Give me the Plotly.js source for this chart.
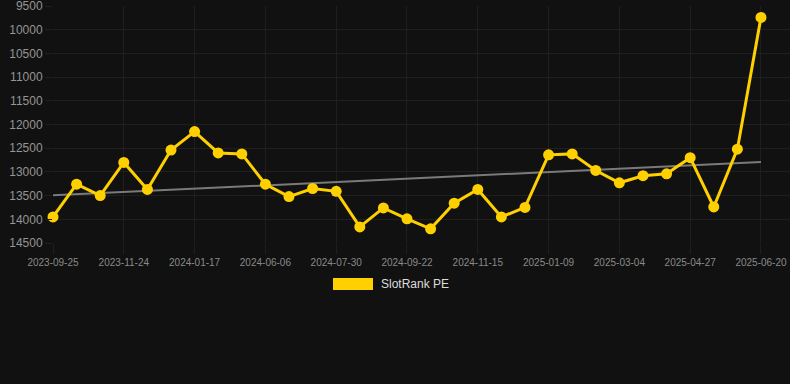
<!DOCTYPE html>
<html>
<head>
<meta charset="utf-8">
<script src="https://cdn.plot.ly/plotly-3.0.1.min.js"></script>
<style>
  html, body { margin: 0; padding: 0; background: #111111; }
  #chart { width: 790px; height: 384px; }
</style>
</head>
<body>
<div id="chart"></div>
<script>
// Data
const dates = [
  "2023-09-25", "2023-10-15", "2023-11-04", "2023-11-24", "2023-12-12", "2023-12-30",
  "2024-01-17", "2024-05-01", "2024-05-19", "2024-06-06", "2024-06-24", "2024-07-12",
  "2024-07-30", "2024-08-17", "2024-09-04", "2024-09-22", "2024-10-10", "2024-10-28",
  "2024-11-15", "2024-12-04", "2024-12-22", "2025-01-09", "2025-01-27", "2025-02-14",
  "2025-03-04", "2025-03-22", "2025-04-09", "2025-04-27", "2025-05-15", "2025-06-02",
  "2025-06-20"
];
const rankValues = [
  13950, 13260, 13500, 12800, 13370, 12540,
  12150, 12600, 12620, 13260, 13520, 13350,
  13410, 14160, 13760, 13990, 14200, 13660,
  13370, 13950, 13750, 12640, 12620, 12970,
  13230, 13080, 13040, 12700, 13740, 12520,
  9740
];
const tickDates = [
  "2023-09-25", "2023-11-24", "2024-01-17", "2024-06-06", "2024-07-30", "2024-09-22",
  "2024-11-15", "2025-01-09", "2025-03-04", "2025-04-27", "2025-06-20"
];
const yTicks = [9500, 10000, 10500, 11000, 11500, 12000, 12500, 13000, 13500, 14000, 14500];
const seriesName = "SlotRank PE";

// Linear trend (least squares over index)
const n = rankValues.length;
let sx = 0, sy = 0, sxx = 0, sxy = 0;
rankValues.forEach((v, i) => { sx += i; sy += v; sxx += i * i; sxy += i * v; });
const slope = (n * sxy - sx * sy) / (n * sxx - sx * sx);
const intercept = (sy - slope * sx) / n;
const trendValues = rankValues.map((_, i) => intercept + slope * i);

const gridColor = "#1f1f1f";
const traces = [
  {
    x: dates, y: trendValues, type: "scatter", mode: "lines",
    line: { color: "#7a7a7a", width: 2 }, hoverinfo: "skip", showlegend: false
  },
  {
    x: dates, y: rankValues, type: "scatter", mode: "lines+markers", name: seriesName,
    line: { color: "#FFD000", width: 3 },
    marker: { color: "#FFD000", size: 11 },
    cliponaxis: false, showlegend: false
  }
];

const layout = {
  width: 790, height: 384,
  paper_bgcolor: "#111111", plot_bgcolor: "#111111",
  margin: { l: 53, r: 0, t: 6, b: 141 },
  font: { family: "Arial, 'Liberation Sans', sans-serif", color: "#8a8a8a" },
  showlegend: false,
  xaxis: {
    type: "category",
    range: [0, 31.23],
    tickmode: "array", tickvals: tickDates, ticktext: tickDates,
    showgrid: true, gridcolor: gridColor, gridwidth: 1,
    ticks: "outside", ticklen: 10, tickcolor: gridColor,
    tickfont: { size: 10, color: "#8a8a8a" },
    zeroline: false, showline: false, fixedrange: true
  },
  yaxis: {
    range: [14500, 9500],
    tickmode: "array", tickvals: yTicks, ticktext: yTicks.map(String),
    showgrid: true, gridcolor: gridColor, gridwidth: 1,
    ticks: "outside", ticklen: 7, tickcolor: gridColor,
    tickfont: { size: 12, color: "#959595" },
    ticklabeloverflow: "allow",
    zeroline: false, showline: false, fixedrange: true
  },
  shapes: [
    {
      type: "rect", xref: "paper", yref: "paper",
      x0: (333 - 53) / 737, x1: (373 - 53) / 737,
      y0: (243 - 278) / 237, y1: (243 - 290) / 237,
      fillcolor: "#FFD000", line: { width: 0 }
    }
  ],
  annotations: [
    {
      text: seriesName, xref: "paper", yref: "paper",
      x: (379 - 53) / 737, y: (243 - 284) / 237,
      xanchor: "left", yanchor: "middle", showarrow: false,
      font: { size: 12, color: "#dddddd" }
    }
  ]
};

Plotly.newPlot("chart", traces, layout, { displayModeBar: false, staticPlot: true });
</script>
</body>
</html>
